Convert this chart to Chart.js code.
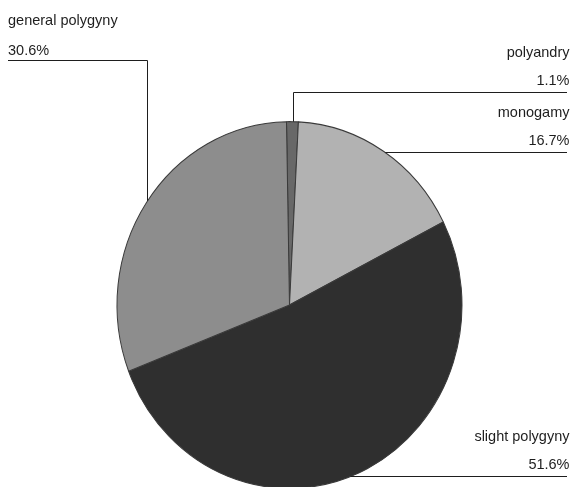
<!DOCTYPE html>
<html>
<head>
<meta charset="utf-8">
<script src="https://cdn.jsdelivr.net/npm/chart.js@4"></script>
<style>
  html, body { margin: 0; padding: 0; background: #fff; }
  #wrap { width: 573px; height: 487px; }
</style>
</head>
<body>
<div id="wrap"><canvas id="grafico"></canvas></div>
<script>
// datos del gráfico (en orden horario desde arriba)
const categorias = ["polyandry", "monogamy", "slight polygyny", "general polygyny"];
const porcentajes = [1.1, 16.7, 51.6, 30.6];
const etiquetasPct = ["1.1%", "16.7%", "51.6%", "30.6%"];
const colores = ["#686868", "#b2b2b2", "#2f2f2f", "#8d8d8d"];

// el original está un poco estirado en vertical
const ESCALA_Y = 1.063;

const pluginEtiquetas = {
  id: "etiquetas",
  beforeDatasetsDraw(chart) {
    const a = chart.getDatasetMeta(0).data[0];
    const ctx = chart.ctx;
    ctx.save();
    ctx.translate(a.x, a.y);
    ctx.scale(1, ESCALA_Y);
    ctx.translate(-a.x, -a.y);
  },
  afterDatasetsDraw(chart) {
    const ctx = chart.ctx;
    ctx.restore();

    const arcos = chart.getDatasetMeta(0).data;
    const cx = arcos[0].x, cy = arcos[0].y;
    const rx = arcos[0].outerRadius, ry = rx * ESCALA_Y;
    // puntos sobre el borde del pie (elipse)
    const bordeY = (x) => cy - ry * Math.sqrt(Math.max(1 - ((x - cx) / rx) ** 2, 0));
    const bordeX = (y) => cx + rx * Math.sqrt(Math.max(1 - ((y - cy) / ry) ** 2, 0));

    ctx.save();
    ctx.fillStyle = "#1e1e1e";
    ctx.strokeStyle = "#1e1e1e";
    ctx.lineWidth = 1;
    ctx.font = "14.5px 'Liberation Sans', Arial, sans-serif";
    ctx.textBaseline = "alphabetic";

    const linea = (pts) => {
      ctx.beginPath();
      ctx.moveTo(pts[0][0], pts[0][1]);
      for (let i = 1; i < pts.length; i++) ctx.lineTo(pts[i][0], pts[i][1]);
      ctx.stroke();
    };

    const xDer = 569.5;

    // polyandry
    ctx.textAlign = "right";
    ctx.fillText(categorias[0], xDer, 56.5);
    ctx.fillText(etiquetasPct[0], xDer, 85);
    linea([[567, 92.5], [293.5, 92.5], [293.5, bordeY(293.5)]]);

    // monogamy
    ctx.fillText(categorias[1], xDer, 117);
    ctx.fillText(etiquetasPct[1], xDer, 145);
    linea([[567, 152.5], [bordeX(152.5), 152.5]]);

    // slight polygyny
    ctx.fillText(categorias[2], xDer, 440.5);
    ctx.fillText(etiquetasPct[2], xDer, 469);
    linea([[567, 476.5], [bordeX(476.5), 476.5]]);

    // general polygyny
    ctx.textAlign = "left";
    ctx.fillText(categorias[3], 8, 25);
    ctx.fillText(etiquetasPct[3], 8, 55);
    linea([[8, 60.5], [147.5, 60.5], [147.5, bordeY(147.5)]]);

    ctx.restore();
  }
};

new Chart(document.getElementById("grafico"), {
  type: "pie",
  data: {
    labels: categorias,
    datasets: [{
      data: porcentajes,
      backgroundColor: colores,
      borderColor: "#3a3a3a",
      borderWidth: 1,
      clip: false
    }]
  },
  options: {
    responsive: true,
    maintainAspectRatio: false,
    animation: false,
    rotation: -1,
    layout: { padding: { left: 116.5, right: 110.5, top: 132, bottom: 9 } },
    plugins: {
      legend: { display: false },
      tooltip: { enabled: false }
    }
  },
  plugins: [pluginEtiquetas]
});
</script>
</body>
</html>
